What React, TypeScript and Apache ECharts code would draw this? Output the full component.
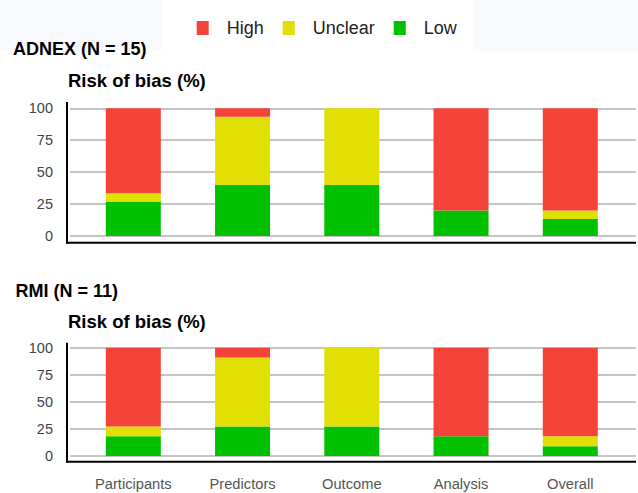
import React, { useEffect, useRef } from "react";
import * as echarts from "echarts";

const categories = ["Participants", "Predictors", "Outcome", "Analysis", "Overall"];
const yTicks = { min: 0, max: 100, interval: 25 };

const adnexLow = [26.7, 40, 40, 20, 13.3];
const adnexUnclear = [6.7, 53.3, 60, 0, 6.7];
const adnexHigh = [66.7, 6.7, 0, 80, 80];

const rmiLow = [18.2, 27.3, 27.3, 18.2, 9.1];
const rmiUnclear = [9.1, 63.6, 72.7, 0, 9.1];
const rmiHigh = [72.7, 9.1, 0, 81.8, 81.8];

const legendNames = ["High", "Unclear", "Low"];
const titles = ["ADNEX (N = 15)", "RMI (N = 11)"];
const yTitle = "Risk of bias (%)";

const COLORS: Record<string, string> = {
  High: "#f4443a",
  Unclear: "#e2df05",
  Low: "#00c000",
};

export default function App() {
  const ref = useRef<HTMLDivElement>(null);

  useEffect(() => {
    if (!ref.current) return;
    const chart = echarts.init(ref.current, undefined, { renderer: "svg" });

    const font = "Arial, 'Liberation Sans', sans-serif";
    const barGridTop = { left: 78.7, right: 13.1, top: 108.3, height: 127.7 };
    const barGridBot = { left: 78.7, right: 13.1, top: 347.7, height: 108.3 };
    const frameTop = { left: 70, right: 2, top: 108.3, height: 127.7 };
    const frameBot = { left: 70, right: 2, top: 347.7, height: 108.3 };

    const mkBar = (name: string, data: number[], idx: number) => ({
      type: "bar",
      name,
      stack: "s" + idx,
      xAxisIndex: idx,
      yAxisIndex: idx,
      barWidth: 55,
      data,
      itemStyle: { color: COLORS[name] },
      emphasis: { disabled: true },
    });

    const frameY = (gi: number) => ({
      type: "value",
      gridIndex: gi,
      min: yTicks.min,
      max: yTicks.max,
      interval: yTicks.interval,
      axisLine: { show: false },
      axisTick: { show: false },
      axisLabel: { color: "#444", fontSize: 14.5, margin: 17, fontFamily: font },
      splitLine: { show: true, lineStyle: { color: "#c4c4c4", width: 2 } },
    });
    const frameX = (gi: number) => ({
      type: "value",
      gridIndex: gi,
      min: 0,
      max: 1,
      show: false,
    });
    const barY = (gi: number) => ({
      type: "value",
      gridIndex: gi,
      min: yTicks.min,
      max: yTicks.max,
      show: false,
    });
    const barX = (gi: number, labels: boolean) => ({
      type: "category",
      gridIndex: gi,
      data: categories,
      axisLine: { show: false },
      axisTick: { show: false },
      axisLabel: {
        show: labels,
        color: "#555",
        fontSize: 14.7,
        margin: 20,
        fontFamily: font,
      },
      splitLine: { show: false },
    });

    const line = (x1: number, y1: number, x2: number, y2: number) => ({
      type: "line",
      shape: { x1, y1, x2, y2 },
      style: { stroke: "#000", lineWidth: 2 },
      z: 100,
    });
    const txt = (text: string, x: number, y: number, size: number) => ({
      type: "text",
      x,
      y,
      style: {
        text,
        fill: "#000",
        fontSize: size,
        fontWeight: "bold",
        fontFamily: font,
        verticalAlign: "middle",
        align: "left",
      },
    });

    chart.setOption({
      animation: false,
      backgroundColor: "#fff",
      legend: {
        data: legendNames,
        left: 196.7,
        top: 19,
        padding: 0,
        icon: "rect",
        itemWidth: 12,
        itemHeight: 14,
        itemGap: 19,
        selectedMode: false,
        textStyle: {
          fontSize: 18,
          color: "#222",
          fontFamily: font,
          padding: [0, 0, 0, 13],
        },
      },
      grid: [
        { ...barGridTop },
        { ...frameTop },
        { ...barGridBot },
        { ...frameBot },
      ],
      xAxis: [barX(0, false), frameX(1), barX(2, true), frameX(3)],
      yAxis: [barY(0), frameY(1), barY(2), frameY(3)],
      series: [
        mkBar("Low", adnexLow, 0),
        mkBar("Unclear", adnexUnclear, 0),
        mkBar("High", adnexHigh, 0),
        mkBar("Low", rmiLow, 2),
        mkBar("Unclear", rmiUnclear, 2),
        mkBar("High", rmiHigh, 2),
      ],
      graphic: [
        { type: "rect", shape: { x: 0, y: 0, width: 163, height: 50 }, style: { fill: "#f9fafd" }, z: -10 },
        { type: "rect", shape: { x: 472.7, y: 0, width: 166, height: 52 }, style: { fill: "#f9fafd" }, z: -10 },
        txt(titles[0], 13, 48.5, 18),
        txt(yTitle, 68, 80, 18.5),
        txt(titles[1], 15.5, 290.5, 18),
        txt(yTitle, 68, 321, 18.5),
        line(67, 102, 67, 243.7),
        line(66, 242.7, 636, 242.7),
        line(67, 342.7, 67, 462.7),
        line(66, 461.7, 636, 461.7),
      ],
    });

    return () => chart.dispose();
  }, []);

  return (
    <div
      ref={ref}
      style={{ position: "absolute", left: 0, top: 0, width: 638, height: 493 }}
    />
  );
}
